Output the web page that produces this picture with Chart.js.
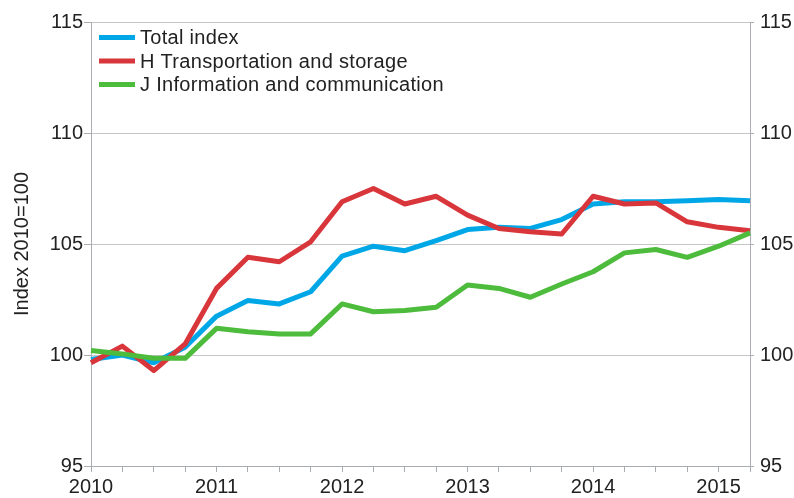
<!DOCTYPE html>
<html>
<head>
<meta charset="utf-8">
<title>Index 2010=100</title>
<script src="https://cdn.jsdelivr.net/npm/chart.js@4.4.1/dist/chart.umd.min.js"></script>
<style>
  html, body { margin: 0; padding: 0; background: #ffffff; }
  #wrap { width: 794px; height: 498px; }
</style>
</head>
<body>
<div id="wrap"><canvas id="chart" width="794" height="498"></canvas></div>
<script>
  "use strict";

  /* ---------------------------------------------------------------------
     Data — quarterly, 2010Q1 .. 2015Q2
     --------------------------------------------------------------------- */
  const quarters = [
    "2010Q1", "2010Q2", "2010Q3", "2010Q4",
    "2011Q1", "2011Q2", "2011Q3", "2011Q4",
    "2012Q1", "2012Q2", "2012Q3", "2012Q4",
    "2013Q1", "2013Q2", "2013Q3", "2013Q4",
    "2014Q1", "2014Q2", "2014Q3", "2014Q4",
    "2015Q1", "2015Q2",
  ];

  const totalIndex = [
    99.8, 100.0, 99.65, 100.35,
    101.75, 102.45, 102.3, 102.85,
    104.45, 104.9, 104.7, 105.15,
    105.65, 105.75, 105.7, 106.1,
    106.8, 106.9, 106.9, 106.95,
    107.0, 106.95,
  ];

  const transportStorage = [
    99.65, 100.4, 99.3, 100.5,
    103.0, 104.4, 104.2, 105.1,
    106.9, 107.5, 106.8, 107.15,
    106.3, 105.7, 105.55, 105.45,
    107.15, 106.8, 106.85, 106.0,
    105.75, 105.6,
  ];

  const infoComm = [
    100.2, 100.05, 99.85, 99.85,
    101.2, 101.05, 100.95, 100.95,
    102.3, 101.95, 102.0, 102.15,
    103.15, 103.0, 102.6, 103.2,
    103.75, 104.6, 104.75, 104.4,
    104.9, 105.5,
  ];

  const seriesLabels = [
    "Total index",
    "H Transportation and storage",
    "J Information and communication",
  ];
  const seriesColors = ["#00a7e6", "#d8363b", "#4dbb3b"];

  const yMin = 95, yMax = 115, yStep = 5;
  const yTitle = "Index 2010=100";

  /* ---------------------------------------------------------------------
     Styling
     --------------------------------------------------------------------- */
  const FONT = "'Liberation Sans', Arial, sans-serif";
  const TEXT = "#222222";
  const AXIS = "#a9adb2";
  const GRID = "#c6c6c6";

  // only the first quarter of each year carries a year label
  function yearLabel(idx) {
    return idx % 4 === 0 ? quarters[idx].slice(0, 4) : "";
  }

  /* legend drawn inside the plot area, top-left, like the original */
  const insideLegend = {
    id: "insideLegend",
    afterDraw(chart) {
      const ctx = chart.ctx;
      const area = chart.chartArea;
      const x0 = area.left + 8, x1 = area.left + 44;
      const rowH = 23.5;
      ctx.save();
      ctx.font = "20px " + FONT;
      ctx.letterSpacing = "0.3px";
      ctx.textBaseline = "middle";
      ctx.textAlign = "left";
      seriesLabels.forEach((lab, i) => {
        const y = area.top + 15.5 + i * rowH;
        ctx.strokeStyle = seriesColors[i];
        ctx.lineWidth = 5;
        ctx.lineCap = "butt";
        ctx.beginPath();
        ctx.moveTo(x0, y);
        ctx.lineTo(x1, y);
        ctx.stroke();
        ctx.fillStyle = TEXT;
        ctx.fillText(lab, x1 + 5, y + 1);
      });
      ctx.restore();
    },
  };

  const seriesData = [totalIndex, transportStorage, infoComm];
  // green drawn on top, then red, then blue underneath
  const drawOrder = [2, 1, 0];

  const datasets = seriesData.map((d, i) => ({
    label: seriesLabels[i],
    data: d,
    borderColor: seriesColors[i],
    backgroundColor: seriesColors[i],
    borderWidth: 5,
    pointRadius: 0,
    tension: 0,
    borderJoinStyle: "round",
    order: drawOrder[i],
    yAxisID: "y",
  }));

  new Chart(document.getElementById("chart"), {
    type: "line",
    data: { labels: quarters, datasets },
    plugins: [insideLegend],
    options: {
      responsive: false,
      animation: false,
      devicePixelRatio: 1,
      layout: { padding: { top: 22, left: 0, right: 0, bottom: 0 } },
      plugins: { legend: { display: false }, tooltip: { enabled: false } },
      scales: {
        x: {
          type: "category",
          offset: false,
          grid: { drawOnChartArea: false, drawTicks: true, tickLength: 6, color: AXIS },
          border: { color: AXIS, width: 1 },
          ticks: {
            autoSkip: false, maxRotation: 0, padding: 3,
            color: TEXT, font: { family: FONT, size: 20 },
            callback: (v, idx) => yearLabel(idx),
          },
          afterFit: s => { s.height = 32; },
        },
        y: {
          position: "left",
          min: yMin, max: yMax,
          grid: { color: GRID, tickLength: 7, tickColor: AXIS },
          border: { color: AXIS, width: 1 },
          ticks: { stepSize: yStep, padding: 1, color: TEXT, font: { family: FONT, size: 20 } },
          title: {
            display: true, text: yTitle, color: TEXT,
            font: { family: FONT, size: 20 }, padding: { top: 10, bottom: 0 },
          },
          afterFit: s => { s.width = 91; },
        },
        y2: {
          position: "right",
          min: yMin, max: yMax,
          grid: { drawOnChartArea: false, tickLength: 4, color: AXIS },
          border: { color: AXIS, width: 1 },
          ticks: { stepSize: yStep, padding: 6, color: TEXT, font: { family: FONT, size: 20 } },
          afterFit: s => { s.width = 44; },
        },
      },
    },
  });
</script>
</body>
</html>
